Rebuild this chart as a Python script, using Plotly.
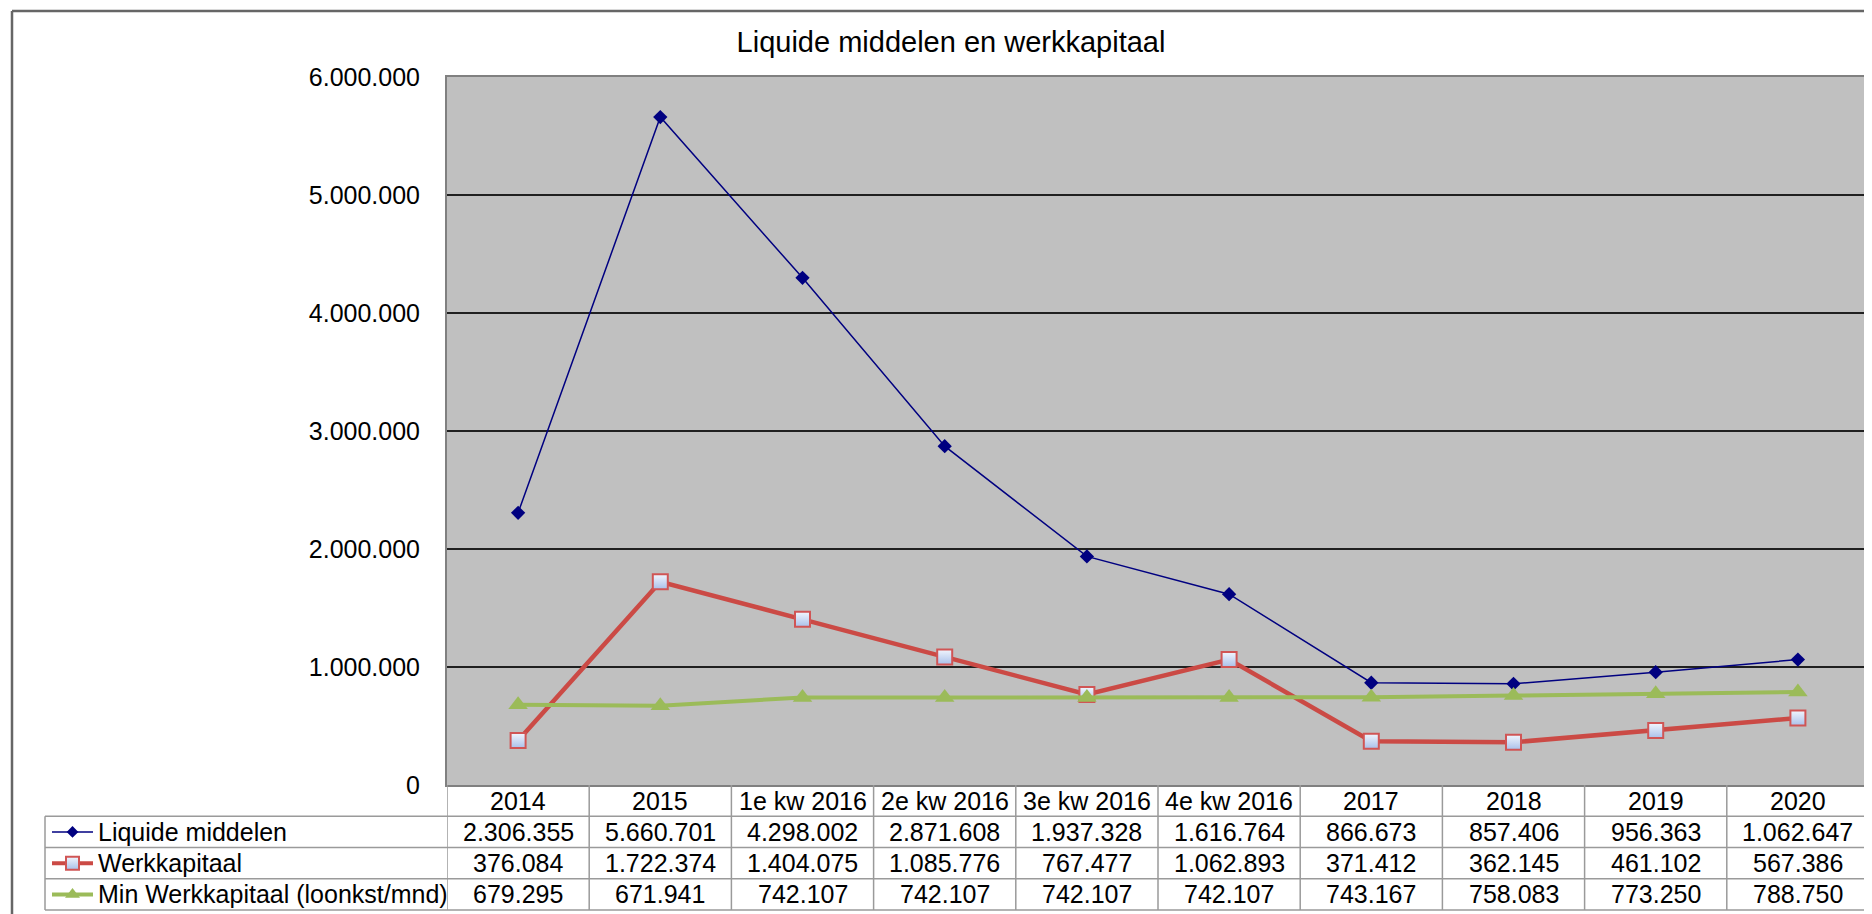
import plotly.graph_objects as go

W, H = 1872, 914
OFF = 8  # page body margin offset of the figure in the browser window

categories = ["2014", "2015", "1e kw 2016", "2e kw 2016", "3e kw 2016",
              "4e kw 2016", "2017", "2018", "2019", "2020"]
liquide = [2306355, 5660701, 4298002, 2871608, 1937328, 1616764, 866673, 857406, 956363, 1062647]
werkkapitaal = [376084, 1722374, 1404075, 1085776, 767477, 1062893, 371412, 362145, 461102, 567386]
min_werkkapitaal = [679295, 671941, 742107, 742107, 742107, 742107, 743167, 758083, 773250, 788750]
series_names = ["Liquide middelen", "Werkkapitaal", "Min Werkkapitaal (loonkst/mnd)"]
title_text = "Liquide middelen en werkkapitaal"

FONT = "Liberation Sans, Arial, sans-serif"
FS = 25


def px(x):
    return (x - OFF) / W


def py(y):
    return 1 - (y - OFF) / H


def fmt(v):
    return f"{v:,}".replace(",", ".")


# geometry (window pixels)
PL, PR, PT, PB = 447, 1869, 77, 785
TL = 45
rows = [785, 816.25, 847.5, 878.75, 910]

styles = [
    dict(line=dict(color="#000080", width=1.5),
         marker=dict(symbol="diamond", size=11, color="#000080")),
    dict(line=dict(color="#CB4A45", width=4.5),
         marker=dict(symbol="square", size=15, color="#f2f6fd",
                     gradient=dict(type="vertical", color="#a9c0ea"),
                     line=dict(color="#D05555", width=2))),
    dict(line=dict(color="#9BBB59", width=4),
         marker=dict(symbol="triangle-up", size=17, color="#9BBB59")),
]
key_styles = [
    dict(line=dict(color="#000080", width=1.5),
         marker=dict(symbol="diamond", size=9, color="#000080")),
    dict(line=dict(color="#CB4A45", width=4),
         marker=dict(symbol="square", size=13, color="#f2f6fd",
                     gradient=dict(type="vertical", color="#a9c0ea"),
                     line=dict(color="#D05555", width=2))),
    dict(line=dict(color="#9BBB59", width=4),
         marker=dict(symbol="triangle-up", size=13, color="#9BBB59")),
]
all_series = [liquide, werkkapitaal, min_werkkapitaal]

fig = go.Figure()

for name, vals, st in zip(series_names, all_series, styles):
    fig.add_trace(go.Scatter(x=list(range(len(categories))), y=vals, name=name,
                             mode="lines+markers", showlegend=False, **st))

# legend keys in the data-table's first column (hidden pixel-space axes)
KX0, KX1 = TL, PL
KY0, KY1 = rows[1], rows[-1]
for ri, st in enumerate(key_styles):
    yc = (rows[ri + 1] + rows[ri + 2]) / 2
    fig.add_trace(go.Scatter(x=[52, 93], y=[yc, yc], mode="lines", line=st["line"],
                             xaxis="x2", yaxis="y2", showlegend=False, hoverinfo="skip"))
    fig.add_trace(go.Scatter(x=[72.5], y=[yc], mode="markers", marker=st["marker"],
                             xaxis="x2", yaxis="y2", showlegend=False, hoverinfo="skip"))

shapes = []
grid_c = "#9a9a9a"
# plot background
shapes.append(dict(type="rect", xref="x domain", yref="y domain", x0=0, x1=1, y0=0, y1=1,
                   fillcolor="#c0c0c0", line=dict(width=0), layer="below"))
# outer frame
shapes.append(dict(type="line", xref="paper", yref="paper", x0=px(12), x1=1, y0=py(11), y1=py(11),
                   line=dict(color="#666666", width=2.5)))
shapes.append(dict(type="line", xref="paper", yref="paper", x0=px(12), x1=px(12), y0=py(11), y1=0,
                   line=dict(color="#666666", width=2.5)))
# table horizontal lines
for r in rows[1:]:
    shapes.append(dict(type="line", xref="paper", yref="paper", x0=px(TL), x1=px(PR),
                       y0=py(r), y1=py(r), line=dict(color=grid_c, width=1.5)))
# table vertical lines
shapes.append(dict(type="line", xref="paper", yref="paper", x0=px(TL), x1=px(TL),
                   y0=py(rows[1]), y1=py(rows[-1]), line=dict(color=grid_c, width=1.5)))
for k in range(len(categories) + 1):
    shapes.append(dict(type="line", xref="x", yref="paper", x0=k - 0.5, x1=k - 0.5,
                       y0=py(rows[0]), y1=py(rows[-1]), line=dict(color=grid_c, width=1.5)))

annotations = []
tfont = dict(family=FONT, size=FS, color="black")
for i, c in enumerate(categories):
    annotations.append(dict(x=i, xref="x", y=py((rows[0] + rows[1]) / 2), yref="paper",
                            text=c, showarrow=False, font=tfont,
                            xanchor="center", yanchor="middle"))
for ri, vals in enumerate(all_series):
    yc = (rows[ri + 1] + rows[ri + 2]) / 2
    annotations.append(dict(x=px(96), xref="paper", y=py(yc), yref="paper",
                            text=series_names[ri], showarrow=False, font=tfont,
                            xanchor="left", yanchor="middle"))
    for i, c in enumerate(categories):
        annotations.append(dict(x=i, xref="x", y=py(yc), yref="paper",
                                text=fmt(vals[i]), showarrow=False, font=tfont,
                                xanchor="center", yanchor="middle"))

fig.update_layout(
    template="none",
    width=W, height=H,
    margin=dict(l=0, r=0, t=0, b=0, pad=0, autoexpand=False),
    paper_bgcolor="white",
    plot_bgcolor="rgba(0,0,0,0)",
    separators=",.",
    font=dict(family=FONT, size=FS, color="black"),
    showlegend=False,
    title=dict(text=title_text, x=px(951), xanchor="center", y=py(42), yanchor="middle",
               font=dict(family=FONT, size=29, color="black")),
    xaxis=dict(domain=[px(PL), px(PR)], range=[-0.5, 9.5], automargin=False,
               showticklabels=False, showgrid=False, zeroline=False,
               showline=True, linecolor="#808080", linewidth=2, mirror=True, ticks=""),
    yaxis=dict(domain=[py(PB), py(PT)], range=[0, 6000000], dtick=1000000, automargin=False,
               tickformat=",d", showgrid=True, gridcolor="#202020", gridwidth=1.5,
               zeroline=False, showline=True, linecolor="#808080", linewidth=2, mirror=True,
               ticks="outside", ticklen=20, tickcolor="rgba(0,0,0,0)",
               tickfont=dict(family=FONT, size=25, color="black")),
    xaxis2=dict(domain=[px(KX0), px(KX1)], range=[KX0, KX1], visible=False,
                anchor="y2", fixedrange=True, automargin=False),
    yaxis2=dict(domain=[py(KY1), py(KY0)], range=[KY1, KY0], visible=False,
                anchor="x2", fixedrange=True, automargin=False),
    shapes=shapes,
    annotations=annotations,
)

fig.write_html("out.html")
